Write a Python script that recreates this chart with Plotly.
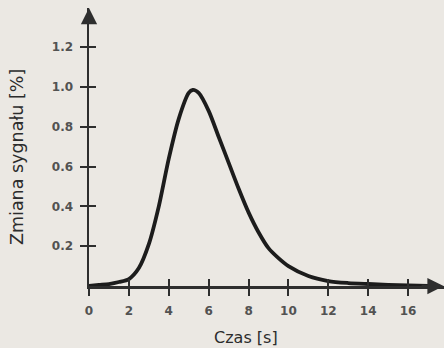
import plotly.graph_objects as go

# Data
time_s = [0, 0.5, 1, 1.5, 2, 2.5, 3, 3.5, 4, 4.5, 5, 5.2, 5.5, 6, 6.5, 7, 7.5, 8,
          8.5, 9, 9.5, 10, 11, 12, 13, 14, 15, 16, 17]
signal_pct = [0, 0.005, 0.01, 0.02, 0.035, 0.09, 0.21, 0.40, 0.64, 0.84, 0.97, 0.985,
              0.97, 0.88, 0.75, 0.62, 0.49, 0.37, 0.27, 0.19, 0.14, 0.10, 0.05, 0.025,
              0.015, 0.01, 0.006, 0.003, 0.0]
x_ticks = [0, 2, 4, 6, 8, 10, 12, 14, 16]
y_ticks = [0.2, 0.4, 0.6, 0.8, 1.0, 1.2]
y_tick_labels = ["0.2", "0.4", "0.6", "0.8", "1.0", "1.2"]

X_MAX = 17.8
Y_MAX = 1.397
BG = "#ebe8e3"
AX = "#2e2e2e"
FONT = "DejaVu Sans"
TICK_FONT = dict(family=FONT, size=12, color="#525252", weight="bold")

fig = go.Figure()
fig.add_trace(go.Scatter(
    x=time_s, y=signal_pct, mode="lines",
    line=dict(color="#1c1c1c", width=3.8, shape="spline", smoothing=0.8),
    cliponaxis=False, showlegend=False, hoverinfo="skip"))
# invisible trace on the secondary axes
fig.add_trace(go.Scatter(x=[0], y=[0], xaxis="x2", yaxis="y2", mode="markers",
                         marker=dict(opacity=0), showlegend=False, hoverinfo="skip"))

common_x = dict(range=[0, X_MAX], tickmode="array", tickvals=x_ticks,
                showgrid=False, zeroline=False, ticklen=7, tickwidth=2, tickcolor=AX)
common_y = dict(range=[0, Y_MAX], tickmode="array", tickvals=y_ticks,
                showgrid=False, zeroline=False, ticklen=7, tickwidth=2, tickcolor=AX)

fig.update_layout(
    width=444, height=348,
    margin=dict(l=89, r=0, t=8, b=62),
    paper_bgcolor=BG, plot_bgcolor=BG,
    font=dict(family=FONT, color="#525252", size=12),
    xaxis=dict(**common_x, ticks="outside", showline=True, linecolor=AX, linewidth=2.5,
               ticktext=[str(v) for v in x_ticks], ticklabelstandoff=5,
               tickfont=TICK_FONT),
    yaxis=dict(**common_y, ticks="outside", showline=True, linecolor=AX, linewidth=2.5,
               ticktext=y_tick_labels, ticklabelstandoff=4,
               tickfont=TICK_FONT),
    xaxis2=dict(**common_x, ticks="inside", overlaying="x", anchor="y2", side="bottom",
                showticklabels=False, showline=False),
    yaxis2=dict(**common_y, ticks="inside", overlaying="y", anchor="x2", side="left",
                showticklabels=False, showline=False),
    annotations=[
        dict(x=X_MAX - 0.02, y=0, ax=X_MAX - 1.2, ay=0, xref="x", yref="y",
             axref="x", ayref="y", showarrow=True, arrowhead=2, arrowsize=1.3,
             arrowwidth=2.5, arrowcolor=AX, text=""),
        dict(x=0, y=Y_MAX, ax=0, ay=Y_MAX - 0.08, xref="x", yref="y",
             axref="x", ayref="y", showarrow=True, arrowhead=2, arrowsize=1.3,
             arrowwidth=2.5, arrowcolor=AX, text=""),
        dict(text="Czas [s]", x=246, y=337, xref="paper", yref="paper",
             xanchor="center", yanchor="middle",
             showarrow=False, font=dict(family=FONT, size=16, color="#2c2c2c")),
        dict(text="Zmiana sygnału [%]", x=17, y=157, xref="paper", yref="paper",
             xanchor="center", yanchor="middle",
             textangle=-90, showarrow=False,
             font=dict(family=FONT, size=17.5, color="#2c2c2c")),
    ],
)

# convert the two title annotations from pixel positions to paper coordinates
pl = 89
pw = 444 - pl
ph = 348 - 8 - 62
anns = list(fig.layout.annotations)
for a in anns[2:]:
    px, py = a.x, a.y
    a.x = (px - pl) / pw
    a.y = (348 - 62 - py) / ph
fig.layout.annotations = anns

fig.write_html("out.html",
               config={"displayModeBar": False, "staticPlot": True},
               post_script="document.body.style.margin='0';"
                           "document.body.style.background='" + BG + "';")
